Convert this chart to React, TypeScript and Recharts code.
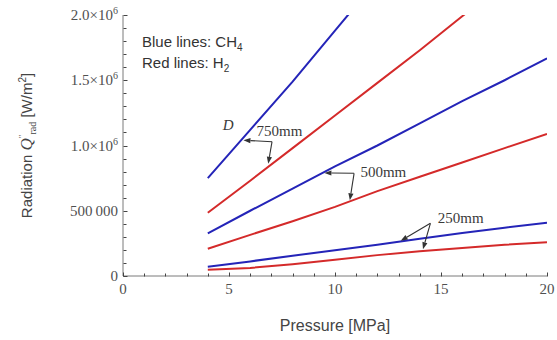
import React from "react";
import {
  ComposedChart,
  Line,
  XAxis,
  YAxis,
  Label,
  ReferenceLine,
  ReferenceDot,
} from "recharts";

// pressure [MPa] at which each curve is sampled
const PRESSURE = [4, 6, 8, 10, 12, 14, 16, 18, 20];

// radiation heat flux [W/m^2]; blue = CH4, red = H2, per flame diameter
const CH4_750 = [750000, 1120000, 1490000, 1880000, 2270000, null, null, null, null];
const H2_750 = [485000, 730000, 980000, 1230000, 1480000, 1730000, 1990000, 2250000, null];
const CH4_500 = [327000, 500000, 670000, 840000, 1000000, 1170000, 1340000, 1500000, 1668000];
const H2_500 = [209000, 315000, 420000, 530000, 650000, 760000, 870000, 980000, 1088000];
const CH4_250 = [71000, 112000, 155000, 198000, 240000, 285000, 330000, 370000, 408000];
const H2_250 = [48000, 62000, 90000, 125000, 160000, 190000, 215000, 240000, 258000];

const X_TICKS = Array.from({ length: 21 }, (_, i) => i);
const Y_TICKS = Array.from({ length: 21 }, (_, i) => i * 100000);

// diameter labels and the arrows pointing at their curves (data coords)
const SIZE_LABELS = [
  { text: "750mm", p: 6.3, q: 1110000 },
  { text: "500mm", p: 11.2, q: 800000 },
  { text: "250mm", p: 14.85, q: 447000 },
];
const ARROWS = [
  { from: [7.03, 1029000], to: [5.68, 1040000] },
  { from: [7.03, 1029000], to: [6.85, 860000] },
  { from: [10.9, 787000], to: [9.5, 790000] },
  { from: [10.9, 787000], to: [10.7, 580000] },
  { from: [14.5, 404000], to: [13.1, 270000] },
  { from: [14.5, 404000], to: [14.15, 205000] },
];

const BLUE = "#2424b8";
const RED = "#d42a2a";
const FRAME = "#7a7a7a";
const TICK = "#444";
const SANS = "'Liberation Sans', Arial, sans-serif";
const SERIF = "'Liberation Serif', 'Times New Roman', serif";

const toRows = (vals: (number | null)[]) =>
  PRESSURE.map((p, i) => ({ p, q: vals[i] }));

const SERIES = [
  { key: "ch4-750", color: BLUE, vals: CH4_750 },
  { key: "h2-750", color: RED, vals: H2_750 },
  { key: "ch4-500", color: BLUE, vals: CH4_500 },
  { key: "h2-500", color: RED, vals: H2_500 },
  { key: "ch4-250", color: BLUE, vals: CH4_250 },
  { key: "h2-250", color: RED, vals: H2_250 },
];

// inward tick mark, major ticks a little longer
function mark(x: number, y: number, dx: number, dy: number) {
  return (
    <path
      d={`M${Math.round(x) + 0.5},${Math.round(y) + 0.5}l${dx},${dy}`}
      stroke={TICK}
      strokeWidth={1}
      fill="none"
    />
  );
}

function BottomTick(props: any) {
  const { x, y, payload } = props;
  const major = payload.value % 5 === 0;
  return (
    <g>
      {mark(x, y, 0, major ? -4 : -3)}
      {major && (
        <text x={x} y={y + 18} textAnchor="middle" fontFamily={SERIF} fontSize={15} fill="#505050">
          {payload.value}
        </text>
      )}
    </g>
  );
}

function TopTick(props: any) {
  const { x, y, payload } = props;
  const major = payload.value % 5 === 0;
  return <g>{mark(x, y, 0, major ? 4 : 3)}</g>;
}

function yLabel(v: number) {
  if (v === 0) return <tspan>0</tspan>;
  if (v === 500000) return <tspan>500{"\u2009"}000</tspan>;
  return (
    <>
      <tspan>{(v / 1e6).toFixed(1)}×10</tspan>
      <tspan dy={-6} fontSize={10}>6</tspan>
    </>
  );
}

function LeftTick(props: any) {
  const { x, y, payload } = props;
  const major = payload.value % 500000 === 0;
  return (
    <g>
      {mark(x, y, major ? 4 : 3, 0)}
      {major && (
        <text x={x - 5} y={y + 5} textAnchor="end" fontFamily={SERIF} fontSize={15} fill="#505050">
          {yLabel(payload.value)}
        </text>
      )}
    </g>
  );
}

function RightTick(props: any) {
  const { x, y, payload } = props;
  const major = payload.value % 500000 === 0;
  return <g>{mark(x - 1, y, major ? -4 : -3, 0)}</g>;
}

function YTitle(props: any) {
  const { viewBox } = props;
  const cx = viewBox.x + 32;
  const cy = viewBox.y + viewBox.height / 2;
  return (
    <text
      x={cx}
      y={cy}
      transform={`rotate(-90 ${cx} ${cy})`}
      textAnchor="middle"
      fontFamily={SANS}
      fontSize={15}
      fill="#444"
    >
      <tspan>Radiation </tspan>
      <tspan fontFamily={SERIF} fontStyle="italic" fontSize={17}>Q</tspan>
      <tspan fontFamily={SERIF} fontSize={9} dy={-7}>″</tspan>
      <tspan fontFamily={SERIF} fontSize={10} dy={11}>rad</tspan>
      <tspan dy={-4}>{"  "}[W/m</tspan>
      <tspan fontSize={10} dy={-6}>2</tspan>
      <tspan dy={6}>]</tspan>
    </text>
  );
}

function XTitle(props: any) {
  const { viewBox } = props;
  return (
    <text
      x={viewBox.x + viewBox.width / 2}
      y={viewBox.y + 55}
      textAnchor="middle"
      fontFamily={SANS}
      fontSize={16}
      fill="#444"
    >
      Pressure [MPa]
    </text>
  );
}

function Arrow(props: any) {
  const { x1, y1, x2, y2 } = props;
  const a = Math.atan2(y2 - y1, x2 - x1);
  const len = 7;
  const half = 2.6;
  const bx = x2 - len * Math.cos(a);
  const by = y2 - len * Math.sin(a);
  const px = -Math.sin(a) * half;
  const py = Math.cos(a) * half;
  return (
    <g>
      <line x1={x1} y1={y1} x2={bx} y2={by} stroke="#333" strokeWidth={1.1} />
      <polygon
        points={`${x2},${y2} ${bx + px},${by + py} ${bx - px},${by - py}`}
        fill="#333"
      />
    </g>
  );
}

export default function App() {
  return (
    <div style={{ position: "absolute", left: 0, top: 0, width: 557, height: 340, background: "#fff" }}>
      <ComposedChart width={557} height={340} margin={{ top: 15, right: 10, bottom: 0, left: 0 }}>
        <XAxis
          type="number"
          dataKey="p"
          domain={[0, 20]}
          ticks={X_TICKS}
          interval={0}
          allowDataOverflow
          height={64}
          tickSize={0}
          tickMargin={0}
          stroke={FRAME}
          tick={<BottomTick />}
        >
          <Label content={<XTitle />} />
        </XAxis>
        <XAxis
          xAxisId="top"
          orientation="top"
          type="number"
          domain={[0, 20]}
          ticks={X_TICKS}
          interval={0}
          allowDataOverflow
          height={0}
          tickSize={0}
          tickMargin={0}
          stroke={FRAME}
          tick={<TopTick />}
        />
        <YAxis
          type="number"
          domain={[0, 2000000]}
          ticks={Y_TICKS}
          interval={0}
          allowDataOverflow
          width={123}
          tickSize={0}
          tickMargin={0}
          stroke={FRAME}
          tick={<LeftTick />}
        >
          <Label content={<YTitle />} />
        </YAxis>
        <YAxis
          yAxisId="right"
          orientation="right"
          type="number"
          domain={[0, 2000000]}
          ticks={Y_TICKS}
          interval={0}
          allowDataOverflow
          width={0}
          tickSize={0}
          tickMargin={0}
          stroke={FRAME}
          tick={<RightTick />}
        />

        {SERIES.map((s) => (
          <Line
            key={s.key}
            data={toRows(s.vals)}
            dataKey="q"
            type="linear"
            stroke={s.color}
            strokeWidth={2}
            dot={false}
            activeDot={false}
            isAnimationActive={false}
          />
        ))}

        {ARROWS.map((a, i) => (
          <ReferenceLine
            key={`arrow-${i}`}
            segment={[
              { x: a.from[0], y: a.from[1] },
              { x: a.to[0], y: a.to[1] },
            ]}
            shape={<Arrow />}
          />
        ))}

        {SIZE_LABELS.map((l) => (
          <ReferenceDot
            key={l.text}
            x={l.p}
            y={l.q}
            r={0}
            shape={(p: any) => (
              <text x={p.cx} y={p.cy + 5} fontFamily={SERIF} fontSize={15} fill="#3a3a3a">
                {l.text}
              </text>
            )}
          />
        ))}
        <ReferenceDot
          x={4.7}
          y={1160000}
          r={0}
          shape={(p: any) => (
            <text x={p.cx} y={p.cy + 5} fontFamily={SERIF} fontStyle="italic" fontSize={15} fill="#3a3a3a">
              D
            </text>
          )}
        />
      </ComposedChart>

      <div
        style={{
          position: "absolute",
          left: 142,
          top: 32,
          fontFamily: SANS,
          fontSize: 15,
          lineHeight: "19px",
          color: "#333",
        }}
      >
        <div>
          Blue lines: CH<span style={{ fontSize: 10, position: "relative", top: 4 }}>4</span>
        </div>
        <div>
          Red lines: H<span style={{ fontSize: 10, position: "relative", top: 4 }}>2</span>
        </div>
      </div>
    </div>
  );
}
